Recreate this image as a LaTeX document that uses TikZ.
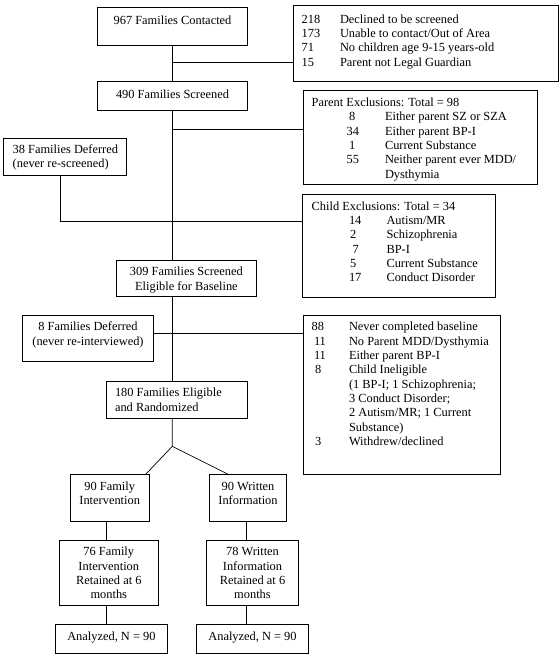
\documentclass[tikz,border=0pt]{standalone}
\usepackage{fontspec}
\setmainfont{Liberation Serif}
\begin{document}
\begin{tikzpicture}[x=1pt,y=-1pt,
  box/.style={draw,line width=0.7pt,inner sep=0pt,outer sep=0pt,anchor=north west},
  txt/.style={inner sep=0pt,outer sep=0pt,font=\fontsize{12.4}{14.4}\selectfont},
  tw/.style={txt,anchor=base west},
  tc/.style={txt,anchor=base},
  ln/.style={line width=0.7pt}]
\useasboundingbox (0,0) rectangle (560,657);
% boxes
\node[box,minimum width=150.4,minimum height=38.5] (b1) at (97.3,7) {};
\node[box,minimum width=265,minimum height=75.5] (bA) at (293.3,5.5) {};
\node[box,minimum width=150.4,minimum height=28.3] (b2) at (97.3,81.7) {};
\node[box,minimum width=234,minimum height=94] (bB) at (303.3,90) {};
\node[box,minimum width=122.7,minimum height=36.7] (d1) at (3.3,138.3) {};
\node[box,minimum width=192.3,minimum height=102.8] (bC) at (302.7,194.5) {};
\node[box,minimum width=140.7,minimum height=36.7] (b3) at (116,260) {};
\node[box,minimum width=130.6,minimum height=46] (d2) at (22.7,315.7) {};
\node[box,minimum width=196.7,minimum height=159] (bD) at (303.3,315) {};
\node[box,minimum width=140.6,minimum height=37.3] (b4) at (106.7,381) {};
\node[box,minimum width=79.3,minimum height=46.7] (fi) at (70,474.3) {};
\node[box,minimum width=77.4,minimum height=46.7] (wi) at (209.3,474.3) {};
\node[box,minimum width=99,minimum height=65.7] (r76) at (59.3,540) {};
\node[box,minimum width=91.6,minimum height=65.7] (r78) at (206.7,540) {};
\node[box,minimum width=112.7,minimum height=29] (a1) at (55,624.3) {};
\node[box,minimum width=111.6,minimum height=29] (a2) at (196.7,624.3) {};
% texts
\node[tc] (t1) at (172.5,24) {967 Families Contacted};
\node[tw] (tA1) at (301.7,23) {218}; \node[tw] (tA1b) at (340,23) {Declined to be screened};
\node[tw] (tA2) at (301.7,37.3) {173}; \node[tw] (tA2b) at (340,37.3) {Unable to contact/Out of Area};
\node[tw] (tA3) at (301.7,51.7) {71}; \node[tw] (tA3b) at (340,51.7) {No children age 9-15 years-old};
\node[tw] (tA4) at (301.7,66) {15}; \node[tw] (tA4b) at (340,66) {Parent not Legal Guardian};
\node[tc] (t2) at (172.5,98.5) {490 Families Screened};
\node[tw] (tB0) at (311.7,106.7) {Parent Exclusions: Total = 98};
\node[tw] (tB1) at (349,120.8) {8}; \node[tw] (tB1b) at (385,120.8) {Either parent SZ or SZA};
\node[tw] (tB2) at (346.7,135.1) {34}; \node[tw] (tB2b) at (385,135.1) {Either parent BP-I};
\node[tw] (tB3) at (349,149.4) {1}; \node[tw] (tB3b) at (385,149.4) {Current Substance};
\node[tw] (tB4) at (346.7,163.7) {55}; \node[tw] (tB4b) at (385,163.7) {Neither parent ever MDD/};
\node[tw] (tB5) at (385,178) {Dysthymia};
\node[tw] (td1a) at (12.7,153.2) {38 Families Deferred};
\node[tw] (td1b) at (12.7,167.5) {(never re-screened)};
\node[tw] (tC0) at (311.7,210) {Child Exclusions: Total = 34};
\node[tw] (tC1) at (349,224.3) {14}; \node[tw] (tC1b) at (386.5,224.3) {Autism/MR};
\node[tw] (tC2) at (350,238.6) {2}; \node[tw] (tC2b) at (386.5,238.6) {Schizophrenia};
\node[tw] (tC3) at (352.5,253) {7}; \node[tw] (tC3b) at (386.5,253) {BP-I};
\node[tw] (tC4) at (350,267.3) {5}; \node[tw] (tC4b) at (386.5,267.3) {Current Substance};
\node[tw] (tC5) at (349,281.6) {17}; \node[tw] (tC5b) at (386.5,281.6) {Conduct Disorder};
\node[tc] (t3a) at (186.4,275.7) {309 Families Screened};
\node[tc] (t3b) at (186.4,290) {Eligible for Baseline};
\node[tc] (td2a) at (88,330.7) {8 Families Deferred};
\node[tc] (td2b) at (88,345) {(never re-interviewed)};
\node[tw] (tD1) at (311.7,330.7) {88}; \node[tw] (tD1b) at (349,330.7) {Never completed baseline};
\node[tw] (tD2) at (314,345.1) {11}; \node[tw] (tD2b) at (349,345.1) {No Parent MDD/Dysthymia};
\node[tw] (tD3) at (314,359.4) {11}; \node[tw] (tD3b) at (349,359.4) {Either parent BP-I};
\node[tw] (tD4) at (315,373.8) {8}; \node[tw] (tD4b) at (349,373.8) {Child Ineligible};
\node[tw] (tD5) at (349,388.2) {(1 BP-I; 1 Schizophrenia;};
\node[tw] (tD6) at (349,402.5) {3 Conduct Disorder;};
\node[tw] (tD7) at (349,416.9) {2 Autism/MR; 1 Current};
\node[tw] (tD8) at (349,431.3) {Substance)};
\node[tw] (tD9) at (315,445.6) {3}; \node[tw] (tD9b) at (349,445.6) {Withdrew/declined};
\node[tw] (t4a) at (115,396.7) {180 Families Eligible};
\node[tw] (t4b) at (115,411) {and Randomized};
\node[tc] (tfa) at (109.7,490.3) {90 Family};
\node[tc] (tfb) at (109.7,504.7) {Intervention};
\node[tc] (twa) at (248,490.3) {90 Written};
\node[tc] (twb) at (248,504.7) {Information};
\node[tc] (t76a) at (108.8,555.7) {76 Family};
\node[tc] (t76b) at (108.8,570) {Intervention};
\node[tc] (t76c) at (108.8,584.4) {Retained at 6};
\node[tc] (t76d) at (108.8,598.8) {months};
\node[tc] (t78a) at (252.5,555.7) {78 Written};
\node[tc] (t78b) at (252.5,570) {Information};
\node[tc] (t78c) at (252.5,584.4) {Retained at 6};
\node[tc] (t78d) at (252.5,598.8) {months};
\node[tc] (ta1) at (111.4,640.7) {Analyzed, N = 90};
\node[tc] (ta2) at (252.5,640.7) {Analyzed, N = 90};
% connectors
\coordinate (tr) at (172.3,0);
\coordinate (jA) at (172.3,62.7);
\coordinate (jB) at (172.3,129.3);
\coordinate (jC) at (60,221.8);
\coordinate (jD) at (172.3,333.7);
\coordinate (sp) at (172.3,446.3);
\coordinate (fL) at (145.7,474.3);
\coordinate (wL) at (228.3,474.3);
\coordinate (cL) at (106.7,0);
\coordinate (cR) at (246.7,0);
\draw[ln] (b1.south -| tr) -- (b2.north -| tr);
\draw[ln] (b2.south -| tr) -- (b3.north -| tr);
\draw[ln] (b3.south -| tr) -- (b4.north -| tr);
\draw[ln] (jA) -- (jA -| bA.west);
\draw[ln] (jB) -- (jB -| bB.west);
\draw[ln] (d1.south -| jC) -- (jC) -- (jC -| bC.west);
\draw[ln] (d2.east |- jD) -- (jD -| bD.west);
\draw[ln] (b4.south -| sp) -- (sp) -- (fL);
\draw[ln] (sp) -- (wL);
\draw[ln] (fi.south -| cL) -- (r76.north -| cL);
\draw[ln] (r76.south -| cL) -- (a1.north -| cL);
\draw[ln] (wi.south -| cR) -- (r78.north -| cR);
\draw[ln] (r78.south -| cR) -- (a2.north -| cR);
\end{tikzpicture}
\end{document}
